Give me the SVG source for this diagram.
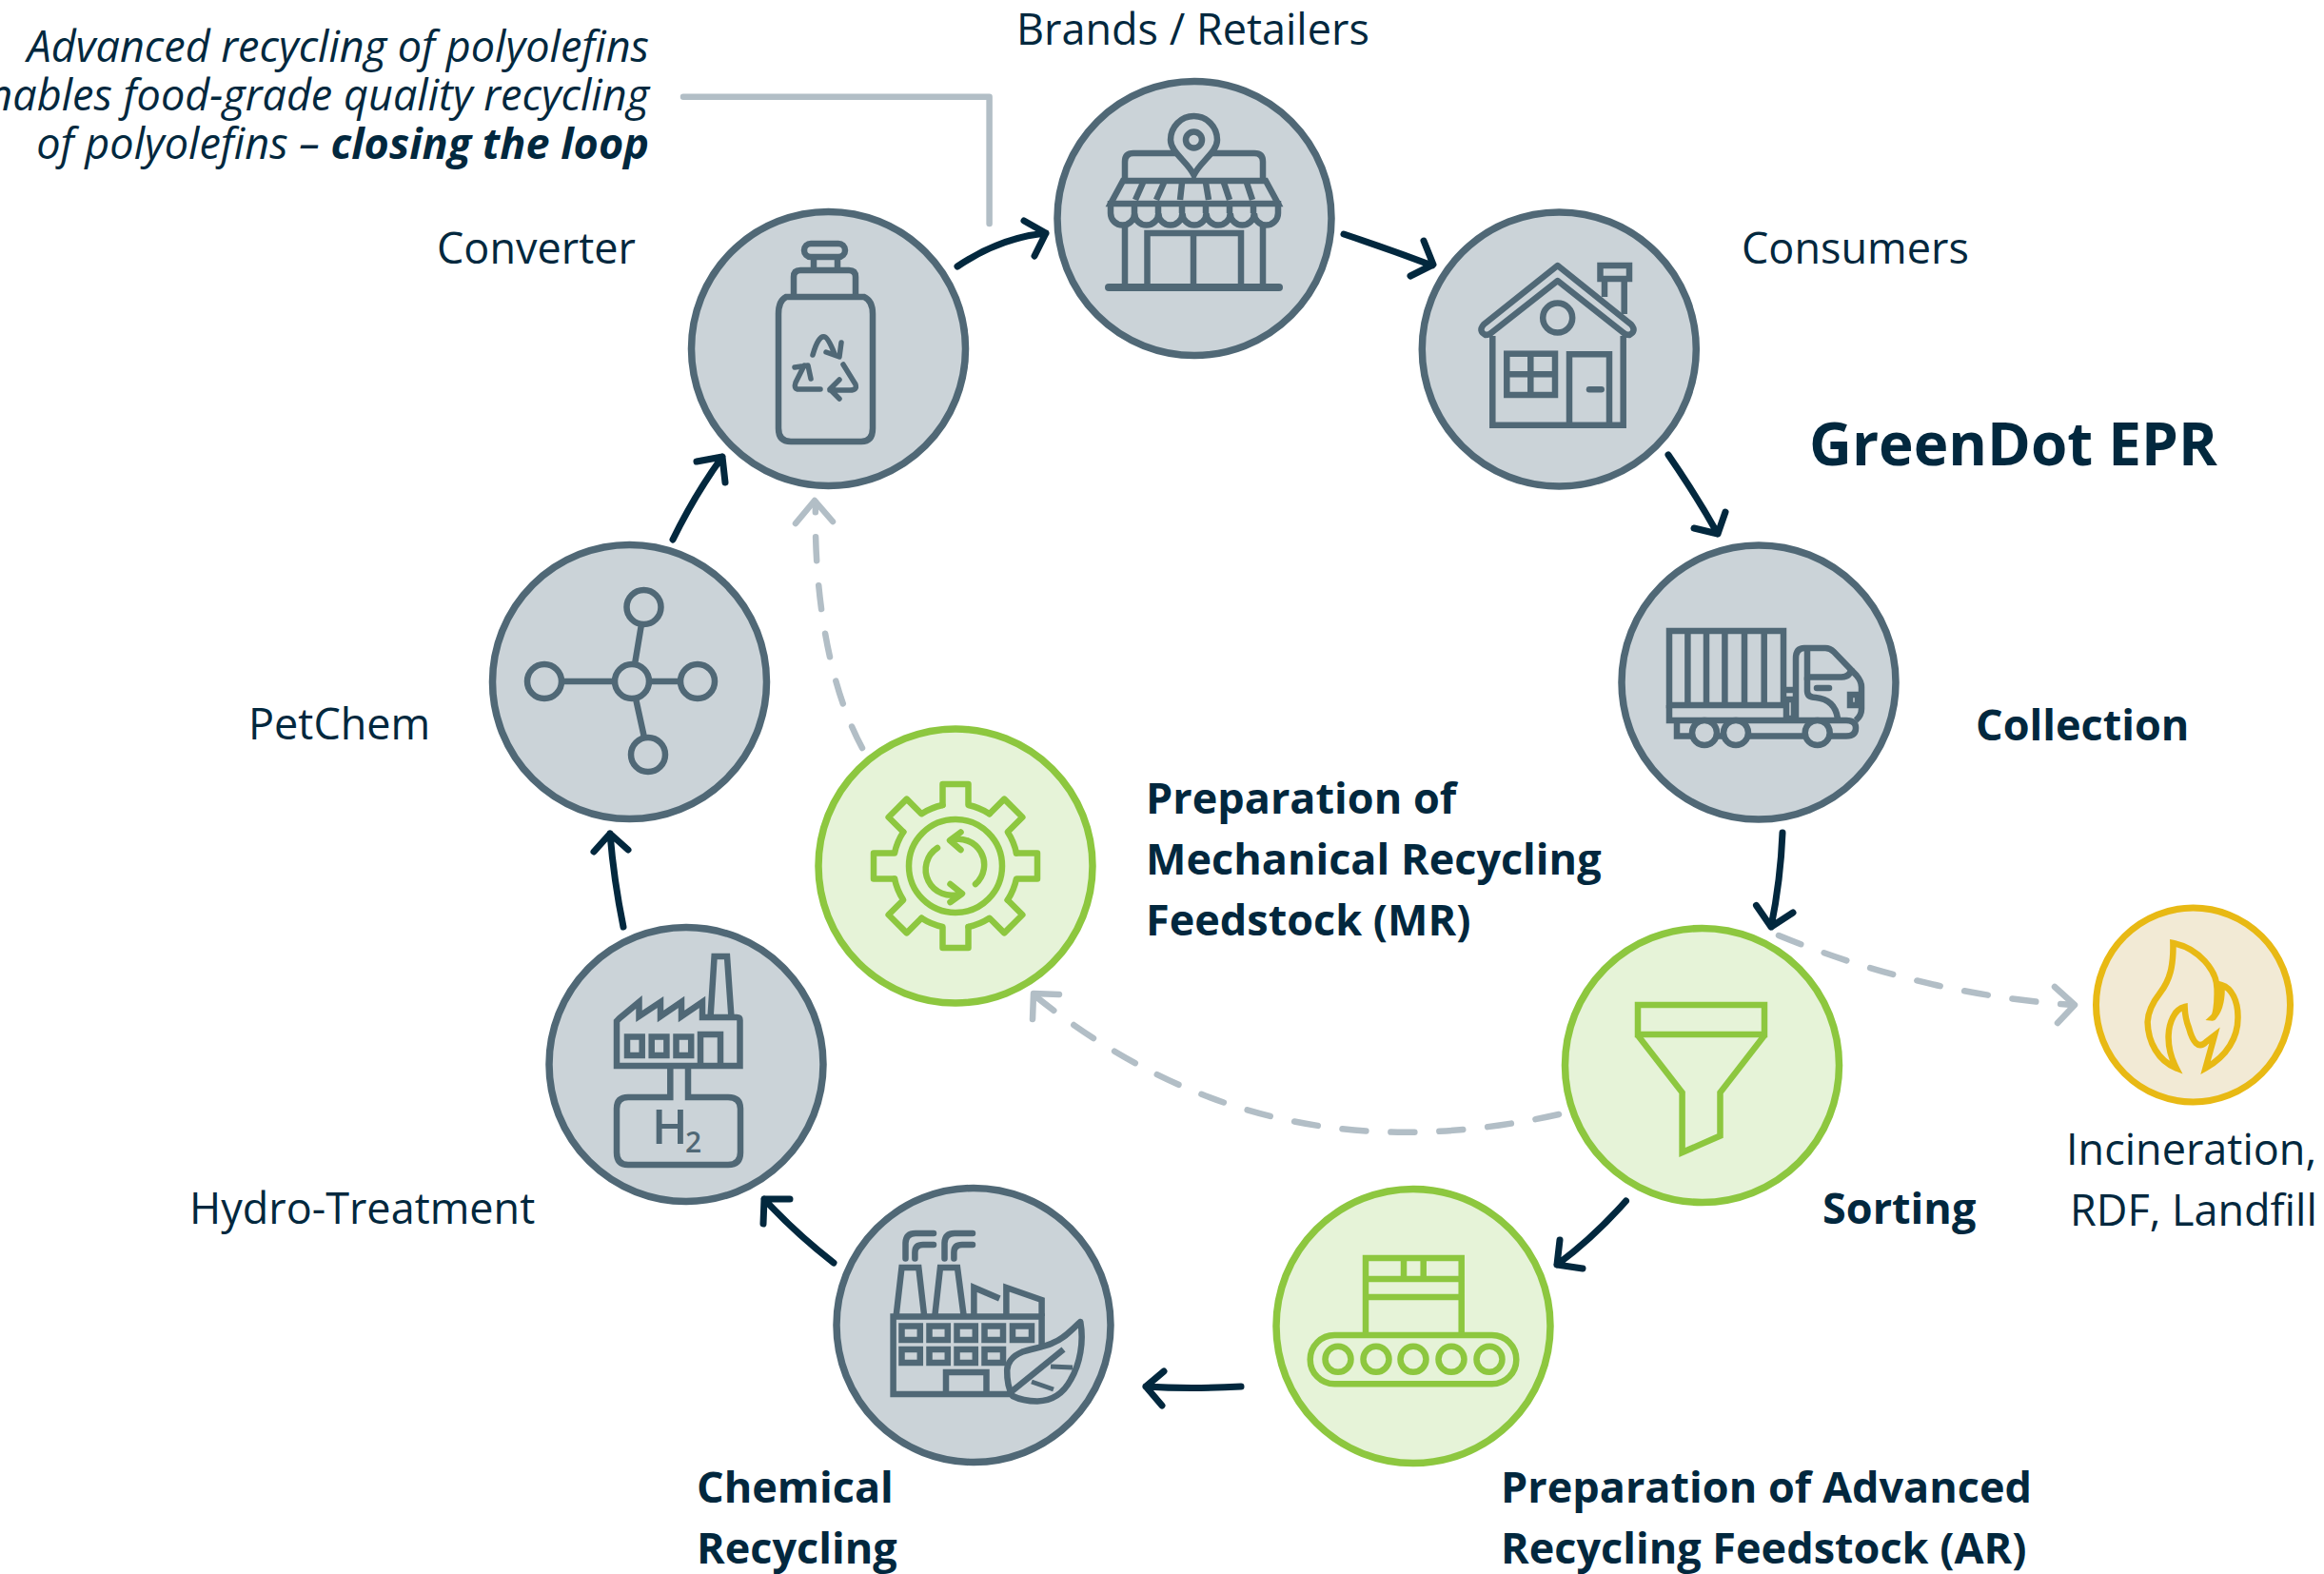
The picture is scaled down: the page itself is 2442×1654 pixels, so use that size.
<svg xmlns="http://www.w3.org/2000/svg" width="2442" height="1654" viewBox="0 0 2442 1654">
<style>
text{font-family:"Open Sans","Noto Sans","Liberation Sans",sans-serif;fill:#02283e;font-size:45px}
.b{font-weight:700}
.g .c{fill:#cbd3d8;stroke:#506876;stroke-width:7.5}
.n .c{fill:#e6f3d8;stroke:#8dc73f;stroke-width:7.5}
.y .c{fill:#f2ead5;stroke:#e8b914;stroke-width:7}
.i{fill:none;stroke-width:6.5;stroke-linejoin:miter}
.g .i{stroke:#506876}
.n .i{stroke:#8dc73f}
.y .i{stroke:#e8b914}
.r{stroke-linecap:round;stroke-linejoin:round}
.a{fill:none;stroke:#02283e;stroke-width:7;stroke-linecap:round;stroke-linejoin:round}
.d{fill:none;stroke:#b2bec6;stroke-width:6.5;stroke-linecap:round;stroke-linejoin:round}
.dash{stroke-dasharray:25 26}
.h2{fill:#506876;font-weight:600}
</style>
<defs>
<path id="gearseg" d="M-13.5,-64V-86H13.5V-64A65.4,65.4 0 0 1 35.7,-54.8"/>
</defs>
<g id="connectors">
<path class="d" d="M718,101.7H1039.6V235"/>
<path class="a" d="M1006,280Q1050,250 1099,245M1076,232L1099,245L1087,269"/>
<path class="a" d="M1412,246Q1460,262 1505,279M1496,253L1506,278L1482,290"/>
<path class="a" d="M1753,478Q1782,520 1805,561M1813,538L1805,561L1780,555"/>
<path class="a" d="M1873,875Q1871,925 1861,974M1845.5,951.5L1861,974L1884,959"/>
<path class="a" d="M1708.5,1262Q1675,1300 1636,1329M1639,1303L1636,1329L1663,1333"/>
<path class="a" d="M1304,1457Q1250,1460 1204,1457M1223,1441L1204,1457L1221,1477"/>
<path class="a" d="M876,1327Q835,1295 803,1260M830,1260L803,1260L802,1286"/>
<path class="a" d="M655,974Q645,925 641,876M624,895L641,876L660,893"/>
<path class="a" d="M707,567Q730,520 759,480M732,485L759,480L762,507"/>
<path class="d dash" d="M1869,983Q2020,1045 2178,1056"/>
<path class="d" d="M2159,1037L2180,1056L2162,1075"/>
<path class="d dash" d="M1638,1171C1440,1215 1260,1185 1087,1046"/>
<path class="d" d="M1113,1045L1086,1044L1085,1071"/>
<path class="d dash" d="M906,786C870,720 855,620 857,528"/>
<path class="d" d="M836,550L856,526L875,548"/>
</g>
<g id="brands" class="g">
<circle class="c" cx="1255" cy="229.5" r="144"/>
<g class="i">
<path d="M1182,188V170Q1182,161 1191,161H1318Q1327,161 1327,170V188"/>
<path d="M1180,190H1330L1343,214H1167Z"/>
<path d="M1201,192L1193,210M1223,192L1215,210M1242,192L1240,210M1267,192L1270,210M1286,192L1292,210M1310,192L1316,210"/>
<path d="M1167,211V224a12.57,12.57 0 0 0 25.14,0a12.57,12.57 0 0 0 25.14,0a12.57,12.57 0 0 0 25.14,0a12.57,12.57 0 0 0 25.14,0a12.57,12.57 0 0 0 25.14,0a12.57,12.57 0 0 0 25.14,0a12.57,12.57 0 0 0 25.14,0V211"/>
<path d="M1192,211V224M1217,211V224M1242,211V224M1267,211V224M1292,211V224M1317,211V224"/>
<path d="M1182,236V302M1327,236V302"/>
<path d="M1205.5,302V245H1304V302M1254,245V302"/>
<path d="M1165,302H1344" class="r" stroke-width="8"/>
<path d="M1254.5,184C1248,170 1230,160 1230,147A24.5,25 0 0 1 1279,147C1279,160 1261,170 1254.5,184Z" fill="#cbd3d8"/>
<circle cx="1254.5" cy="147" r="8.5"/>
</g>
<text x="1068" y="47">Brands / Retailers</text>
</g>
<g id="converter" class="g">
<circle class="c" cx="870.5" cy="366.5" r="144"/>
<g class="i">
<rect x="845" y="256" width="43" height="14" rx="7"/>
<path d="M855,270V283M880,270V283"/>
<path d="M834,310V291Q834,284 841,284H892Q899,284 899,291V310"/>
<path d="M826,312H908Q917,316 917,330V450Q917,464 905,464H831Q818,464 818,450V330Q818,316 826,312Z"/>
<g class="r" stroke-width="5.5">
<path d="M854,373Q860,352 866.5,354Q870,354 877,372M868,370L882,375L884,360"/>
<path d="M862,409H838Q834,408 836,402L845,384M835,386L849,384L852,398"/>
<path d="M886,383L899,404Q901,410 893,410H872M882,399L872,409L882,419"/>
</g>
</g>
<text x="459" y="277">Converter</text>
</g>
<g id="consumers" class="g">
<circle class="c" cx="1638.3" cy="367" r="144"/>
<g class="i">
<path d="M1686,312V292M1706.7,330V292"/>
<rect x="1681.5" y="279" width="30.5" height="14"/>
<path d="M1568.3,353V446.7H1705.7V353"/>
<path d="M1559,341L1636.7,279L1714,341Q1720,348 1712,352Q1708,352 1705,349L1636.7,295L1568,349Q1565,352 1561,352Q1553,348 1559,341Z" class="r"/>
<circle cx="1636.7" cy="334" r="15.5"/>
<rect x="1583.3" y="371.7" width="50.7" height="43.3"/>
<path d="M1608.3,372V415M1583,393.3H1634"/>
<path d="M1649,447V372.3H1691V447"/>
<path d="M1670,409.3H1682.7" class="r"/>
</g>
<text x="1830" y="277">Consumers</text>
</g>
<g id="collection" class="g">
<circle class="c" cx="1848" cy="717" r="144"/>
<g class="i" stroke-width="6">
<rect x="1754" y="663" width="120" height="78"/>
<path d="M1773.4,663V741M1793,663V741M1812.4,663V741M1833,663V741M1853.7,663V741"/>
<path d="M1754,741V757H1940Q1950,757 1950,765Q1950,773.5 1940,773.5H1762V757"/>
<path d="M1874,725H1887M1877,735H1885V755H1877Z"/>
<path d="M1887,757V692Q1887,681 1896,681H1918Q1923,681 1927,685L1951,710Q1956,716 1956,722V745Q1956,752 1950,757"/>
<path d="M1899,682V711.5H1935Q1945,711 1945,702"/>
<path d="M1899,711.5V726Q1899,733 1908,733Q1928,735 1931,755"/>
<path d="M1909,723H1922" class="r"/>
<rect x="1944" y="730" width="8" height="11"/>
<circle cx="1791" cy="770" r="13" fill="#cbd3d8"/>
<circle cx="1824" cy="770" r="13" fill="#cbd3d8"/>
<circle cx="1909.7" cy="770" r="13" fill="#cbd3d8"/>
</g>
<text class="b" x="2076" y="778">Collection</text>
</g>
<g id="sorting" class="n">
<circle class="c" cx="1788.5" cy="1119.5" r="144"/>
<g class="i">
<rect x="1721" y="1056" width="133" height="31"/>
<path d="M1721,1088L1767.6,1148V1211L1807.5,1193.6V1148L1854,1088"/>
</g>
<text class="b" x="1915" y="1286">Sorting</text>
</g>
<g id="incineration" class="y">
<circle class="c" cx="2304.5" cy="1056" r="102"/>
<path class="i" d="M2283.4,991C2310,996 2330,1020 2329.6,1040C2330,1055 2328,1070 2324.8,1069.6C2333,1062 2335,1048 2334.5,1035C2345,1038 2351.5,1052 2351.5,1068C2352,1090 2340,1110 2317.5,1122.4L2327,1088L2318,1095C2310,1103 2304,1095 2300,1080Q2296,1070 2295.6,1058C2285,1060 2279,1075 2278.6,1088Q2278,1105 2286.8,1122.4C2268,1115 2257,1095 2256.6,1074C2257,1062 2263,1052 2270,1043C2280,1030 2284,1015 2283.4,991Z"/>
<text x="2171" y="1224">Incineration,</text>
<text x="2175" y="1288">RDF, Landfill</text>
</g>
<g id="ar" class="n">
<circle class="c" cx="1485" cy="1393.5" r="144"/>
<g class="i" stroke-width="6.7">
<path d="M1435,1403V1322H1535.7V1403M1435,1344H1535.7M1435,1363H1535.7M1475,1322V1344M1495.7,1322V1344"/>
<rect x="1376.7" y="1403" width="216.6" height="51.3" rx="25.6"/>
<circle cx="1406" cy="1428.3" r="13.5"/>
<circle cx="1446" cy="1428.3" r="13.5"/>
<circle cx="1485" cy="1428.3" r="13.5"/>
<circle cx="1525" cy="1428.3" r="13.5"/>
<circle cx="1565" cy="1428.3" r="13.5"/>
</g>
<text class="b" x="1577" y="1579">Preparation of Advanced</text>
<text class="b" x="1577" y="1643">Recycling Feedstock (AR)</text>
</g>
<g id="chemical" class="g">
<circle class="c" cx="1023" cy="1392.5" r="144"/>
<g class="i">
<path d="M1094.6,1413V1383.6H938.6V1465H1066"/>
<path d="M941.6,1383L947.5,1332H965.3L971.2,1383M982.3,1383L988,1332H1006L1012.7,1383"/>
<path d="M1023.4,1383V1353L1050.3,1364.4" />
<path d="M1057.4,1383V1353L1094.6,1366V1383"/>
<g class="r">
<path d="M951.5,1322.6V1306Q952,1296 962,1296H981M961.4,1322.6V1316Q961.4,1308 970,1308H981"/>
<path d="M992.5,1322.6V1306Q993,1296 1003,1296H1022M1002.4,1322.6V1316Q1002.4,1308 1011,1308H1022"/>
</g>
<path d="M947.5,1393.5H966.8V1408H947.5ZM976.5,1393.5H995.8V1408H976.5ZM1005.5,1393.5H1024.8V1408H1005.5ZM1034.5,1393.5H1054V1408H1034.5ZM1064,1393.5H1084V1408H1064ZM947.5,1418H966.8V1432H947.5ZM976.5,1418H995.8V1432H976.5ZM1005.5,1418H1024.8V1432H1005.5ZM1034.5,1418H1054V1432H1034.5Z"/>
<path d="M994,1465V1442H1036.5V1465"/>
<path d="M1135.3,1389C1125,1398 1118,1407 1105.7,1411.4C1095,1416 1085,1417 1074,1420.7C1063,1425 1058.2,1433 1058.2,1440C1058,1452 1060,1460 1064,1467C1072,1471 1082,1472.4 1090,1472.4C1107,1472 1118,1463 1125,1450C1135,1433 1139,1410 1135.3,1389Z" class="r"/>
<path d="M1062,1463L1117.5,1418"/>
<path d="M1104,1436L1127,1437M1084,1452L1107,1460" stroke-width="5"/>
</g>
<text class="b" x="732" y="1579">Chemical</text>
<text class="b" x="732" y="1643">Recycling</text>
</g>
<g id="hydro" class="g">
<circle class="c" cx="721" cy="1118.5" r="144"/>
<g class="i">
<path d="M648,1120H777.5V1072Q777.5,1069 774,1069H738V1053L716,1068V1053L694,1068V1053L671.5,1068V1053L651,1070L648,1073Z"/>
<path d="M746.6,1068L750.6,1005H764L768.4,1068"/>
<rect x="659" y="1089.5" width="15.7" height="19.5"/>
<rect x="684.7" y="1089.5" width="15.7" height="19.5"/>
<rect x="710.5" y="1089.5" width="15.7" height="19.5"/>
<path d="M736,1120V1087H757V1120"/>
<path d="M704.3,1120V1153H660Q648,1153 648,1165V1211Q648,1224 660,1224H765Q778,1224 778,1211V1165Q778,1153 765,1153H723V1120"/>
</g>
<text class="h2" x="685" y="1202" style="font-size:50px">H</text>
<text class="h2" x="720" y="1211" style="font-size:30px">2</text>
<text x="199" y="1286">Hydro-Treatment</text>
</g>
<g id="petchem" class="g">
<circle class="c" cx="661.5" cy="716.5" r="144"/>
<g class="i">
<circle cx="664" cy="716" r="18"/>
<circle cx="676.5" cy="638" r="18"/>
<circle cx="572" cy="716" r="18"/>
<circle cx="733" cy="716" r="18"/>
<circle cx="681" cy="793" r="18"/>
<path d="M590,716H646M682,716H715M667,698L674,656M668,734L677,775"/>
</g>
<text x="261" y="777">PetChem</text>
</g>
<g id="mr" class="n">
<circle class="c" cx="1004" cy="910" r="144"/>
<g class="i r" transform="translate(1004,910)">
<use href="#gearseg"/>
<use href="#gearseg" transform="rotate(45)"/>
<use href="#gearseg" transform="rotate(90)"/>
<use href="#gearseg" transform="rotate(135)"/>
<use href="#gearseg" transform="rotate(180)"/>
<use href="#gearseg" transform="rotate(225)"/>
<use href="#gearseg" transform="rotate(270)"/>
<use href="#gearseg" transform="rotate(315)"/>
<circle r="49"/>
<path d="M21,19A27,27 0 0 0 -5,-27M5.5,-35.5L-6,-27L5.5,-17"/>
<path d="M-19,-19A27,27 0 0 0 5,29M-5.5,19L7,29L-5.5,38"/>
</g>
<text class="b" x="1204" y="855">Preparation of</text>
<text class="b" x="1204" y="919">Mechanical Recycling</text>
<text class="b" x="1204" y="983">Feedstock (MR)</text>
</g>
<g id="callout">
<text x="682" y="65" text-anchor="end" font-style="italic">Advanced recycling of polyolefins</text>
<text x="682" y="116" text-anchor="end" font-style="italic">enables food-grade quality recycling</text>
<text x="682" y="167" text-anchor="end" font-style="italic">of polyolefins – <tspan class="b">closing the loop</tspan></text>
</g>
<text id="title" class="b" x="1901" y="489" style="font-size:62px">GreenDot EPR</text>
</svg>
